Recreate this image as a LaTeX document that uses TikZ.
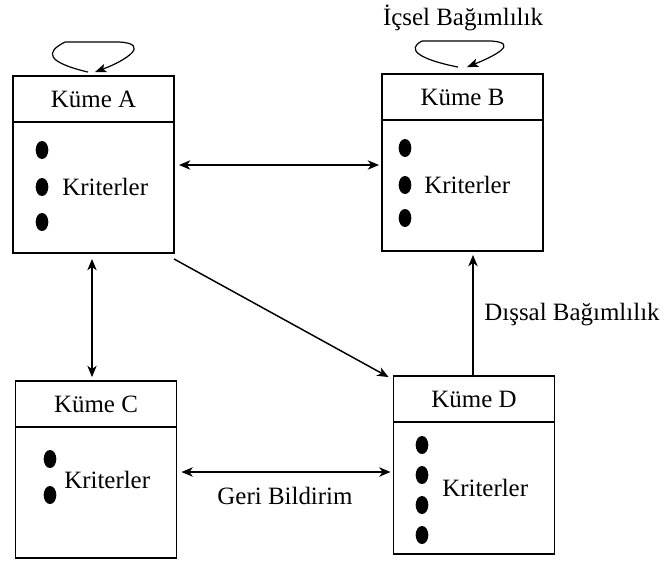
\documentclass[tikz,border=0pt]{standalone}
\usepackage{fontspec}
\setmainfont{Liberation Serif}
\usetikzlibrary{arrows.meta,shapes.geometric}
\begin{document}
\begin{tikzpicture}[x=0.75pt,y=-0.75pt,
  every node/.style={font=\fontsize{18.7}{20}\selectfont},
  box/.style={draw,line width=1.4pt,minimum width=120.75pt,minimum height=132.75pt,inner sep=0pt},
  head/.style={draw,line width=1.4pt,minimum width=120.75pt,minimum height=34.5pt,inner sep=0pt,anchor=north},
  dot/.style={ellipse,fill=black,minimum width=9.5pt,minimum height=13.5pt,inner sep=0pt},
  crit/.style={anchor=west,inner sep=0pt},
  lbl/.style={inner sep=0pt},
  tip/.style={-{Stealth[length=8.5pt,width=7pt,inset=2.5pt]}},
  dtip/.style={{Stealth[length=8.5pt,width=7pt,inset=2.5pt]}-{Stealth[length=8.5pt,width=7pt,inset=2.5pt]}},
  conn/.style={line width=1.1pt},
  loopline/.style={line width=0.9pt,-{Stealth[length=8.5pt,width=6.5pt,inset=2pt]}}
]
\useasboundingbox (0,0) rectangle (663,560);
% boxes
\node[box] (A) at (93.5,164.5) {};
\node[head] (Ah) at (A.north) {Küme A};
\node[box] (B) at (462.5,162.5) {};
\node[head] (Bh) at (B.north) {Küme B};
\node[box] (C) at (96,469.5) {};
\node[head] (Ch) at (C.north) {Küme C};
\node[box,minimum height=133.5pt] (D) at (474,465) {};
\node[head] (Dh) at (D.north) {Küme D};
% bullets and texts
\node[dot] (a1) at (42,150) {};
\node[dot] (a2) at (42,187) {};
\node[dot] (a3) at (42,222) {};
\node[crit] (at) at (62,187) {Kriterler};
\node[dot] (b1) at (405,148) {};
\node[dot] (b2) at (405,185) {};
\node[dot] (b3) at (405,218) {};
\node[crit] (bt) at (424,185) {Kriterler};
\node[dot] (c1) at (50,459) {};
\node[dot] (c2) at (50,495) {};
\node[crit] (ct) at (64,480) {Kriterler};
\node[dot] (d1) at (422,445) {};
\node[dot] (d2) at (422,475) {};
\node[dot] (d3) at (422,505) {};
\node[dot] (d4) at (422,535) {};
\node[crit] (dt) at (442,488) {Kriterler};
% labels
\node[lbl] (ic) at (463,18) {İçsel Bağımlılık};
\node[lbl] (dis) at (572,315) {Dışsal Bağımlılık};
\node[lbl] (geri) at (285,496) {Geri Bildirim};
% connector end points
\coordinate (ab1) at ([shift={(4,0.5)}]A.east);
\coordinate (ab2) at ([shift={(-2,0)}]B.west |- ab1);
\coordinate (ac1) at ([shift={(-1.5,5)}]A.south);
\coordinate (ac2) at ([shift={(0,-3)}]ac1 |- C.north);
\coordinate (ad1) at ([shift={(-1,5)}]A.south east);
\coordinate (ad2) at ([shift={(-4,2)}]D.north west);
\coordinate (cd1) at ([shift={(4,2.5)}]C.east);
\coordinate (cd2) at ([shift={(-2,0)}]D.west |- cd1);
\coordinate (db1) at ([shift={(-1,0)}]D.north);
\coordinate (db2) at ([shift={(0,3)}]db1 |- B.south);
% connectors
\draw[conn,dtip] (ab1) -- (ab2);
\draw[conn,dtip] (ac1) -- (ac2);
\draw[conn,tip] (ad1) -- (ad2);
\draw[conn,dtip] (cd1) -- (cd2);
\draw[conn,tip] (db1) -- (db2);
% self loops
\draw[loopline] ([shift={(-5.5,-3)}]Ah.north) .. controls +(-42,-10) and +(-20,10) .. ++(-23,-30) -- ++(55,0) .. controls +(30,2) and +(32,-12) .. ([shift={(1.5,-3)}]Ah.north);
\draw[loopline] ([shift={(-4.5,-6)}]Bh.north) .. controls +(-40,-8) and +(-16,8) .. ++(-36,-26) -- ++(70,0) .. controls +(26,2) and +(30,-12) .. ([shift={(4.5,-6)}]Bh.north);
\end{tikzpicture}
\end{document}
